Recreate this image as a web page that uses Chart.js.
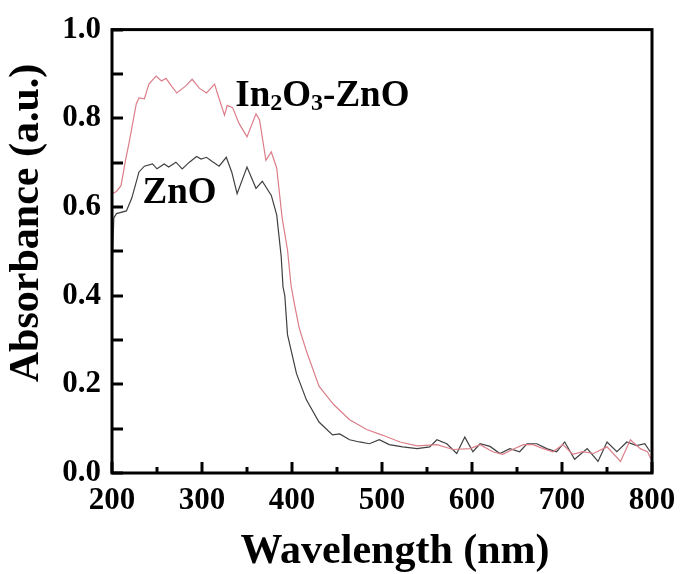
<!DOCTYPE html>
<html>
<head>
<meta charset="utf-8">
<script src="https://cdn.jsdelivr.net/npm/chart.js@4/dist/chart.umd.min.js"></script>
<style>
  html, body { margin: 0; padding: 0; background: #fff; }
  #wrap { width: 685px; height: 574px; }
</style>
</head>
<body>
<div id="wrap"><canvas id="c" width="685" height="574"></canvas></div>
<script>
// ---- Data ----
const xTitle = "Wavelength (nm)";
const yTitle = "Absorbance (a.u.)";
const xTickValues = [200, 300, 400, 500, 600, 700, 800];
const yTickValues = [0.0, 0.2, 0.4, 0.6, 0.8, 1.0];

const seriesNames = ["In2O3-ZnO", "ZnO"];

const wlIn2O3ZnO = [200,205,210,215,219,227,230,236,241,249,255,260,266,272,282,289,297,305,314,317,325,328,334,341,350,360,364,371,377,383,389,395,399,403,408,416,430,446,464,483,501,520,539,561,579,598,609,623,634,645,657,668,679,690,701,712,723,735,750,765,776,787,795,799];
const absIn2O3ZnO = [0.630,0.635,0.648,0.705,0.745,0.833,0.846,0.844,0.877,0.895,0.884,0.890,0.873,0.857,0.873,0.888,0.868,0.857,0.877,0.857,0.807,0.829,0.824,0.789,0.758,0.810,0.796,0.705,0.724,0.688,0.576,0.503,0.422,0.378,0.327,0.275,0.196,0.155,0.120,0.098,0.085,0.070,0.061,0.064,0.053,0.055,0.064,0.048,0.042,0.053,0.064,0.064,0.055,0.048,0.064,0.042,0.048,0.044,0.059,0.026,0.075,0.055,0.048,0.031];

const wlZnO = [200,202,205,216,222,230,236,245,250,258,263,271,278,286,294,299,305,311,319,327,333,339,350,360,367,377,383,388,390,392,395,405,416,430,445,453,464,475,486,497,508,523,539,553,561,572,583,592,601,609,620,631,642,653,661,672,683,694,703,714,728,740,750,761,772,783,792,798];
const absZnO = [0.450,0.575,0.585,0.591,0.620,0.679,0.692,0.697,0.686,0.697,0.690,0.701,0.686,0.701,0.714,0.708,0.712,0.703,0.692,0.712,0.679,0.630,0.690,0.642,0.658,0.626,0.582,0.488,0.420,0.400,0.312,0.224,0.165,0.115,0.086,0.088,0.075,0.070,0.066,0.075,0.064,0.059,0.055,0.059,0.075,0.066,0.044,0.081,0.048,0.066,0.060,0.044,0.055,0.048,0.066,0.066,0.055,0.048,0.070,0.031,0.055,0.026,0.070,0.048,0.070,0.062,0.066,0.048];

// label anchors (data coordinates)
const labelIn2O3ZnO = { x: 337, y: 0.828 };
const labelZnO = { x: 234, y: 0.61 };

const toPoints = (xs, ys) => xs.map((x, i) => ({ x: x, y: ys[i] }));

const SERIF = '"Liberation Serif", "Times New Roman", serif';

const decorPlugin = {
  id: 'decor',
  afterDatasetsDraw(chart) {
    const ctx = chart.ctx;
    const a = chart.chartArea;
    const xs = chart.scales.x, ys = chart.scales.y;
    ctx.save();
    ctx.strokeStyle = '#000';
    ctx.lineWidth = 3;
    // inward ticks x
    for (let v = 200; v <= 800; v += 50) {
      const px = Math.round(xs.getPixelForValue(v));
      const len = (v % 100 === 0) ? 11 : 6;
      ctx.beginPath();
      ctx.moveTo(px, a.bottom);
      ctx.lineTo(px, a.bottom - len);
      ctx.stroke();
    }
    // inward ticks y
    for (let i = 0; i <= 10; i++) {
      const py = Math.round(ys.getPixelForValue(i / 10));
      ctx.beginPath();
      ctx.moveTo(a.left, py);
      ctx.lineTo(a.left + 11, py);
      ctx.stroke();
    }
    // frame
    ctx.strokeRect(a.left, a.top, a.right - a.left, a.bottom - a.top);

    // series labels
    ctx.fillStyle = '#000';
    ctx.textBaseline = 'alphabetic';
    ctx.textAlign = 'left';
    const big = 'bold 37px ' + SERIF;
    const small = 'bold 24px ' + SERIF;
    let x = xs.getPixelForValue(labelIn2O3ZnO.x);
    const yb = ys.getPixelForValue(labelIn2O3ZnO.y);
    const parts = [['In', big, 0], ['2', small, 4], ['O', big, 0], ['3', small, 4], ['-ZnO', big, 0]];
    for (const [t, f, dy] of parts) {
      ctx.font = f;
      ctx.fillText(t, x, yb + dy);
      x += ctx.measureText(t).width;
    }
    ctx.font = big;
    ctx.fillText('ZnO', xs.getPixelForValue(labelZnO.x), ys.getPixelForValue(labelZnO.y));

    // axis titles
    ctx.font = 'bold 42px ' + SERIF;
    ctx.textAlign = 'center';
    ctx.textBaseline = 'alphabetic';
    ctx.fillText(xTitle, 395, 563);
    ctx.save();
    ctx.translate(38, 223);
    ctx.rotate(-Math.PI / 2);
    ctx.fillText(yTitle, 0, 0);
    ctx.restore();
    ctx.restore();
  }
};

new Chart(document.getElementById('c'), {
  type: 'line',
  data: {
    datasets: [
      {
        label: seriesNames[0],
        data: toPoints(wlIn2O3ZnO, absIn2O3ZnO),
        borderColor: '#dc7e8a',
        borderWidth: 1.2,
        pointRadius: 0,
        tension: 0,
        fill: false
      },
      {
        label: seriesNames[1],
        data: toPoints(wlZnO, absZnO),
        borderColor: '#404040',
        borderWidth: 1.2,
        pointRadius: 0,
        tension: 0,
        fill: false
      }
    ]
  },
  options: {
    responsive: false,
    animation: false,
    devicePixelRatio: 1,
    layout: { padding: { top: 14, right: 33, left: 0, bottom: 0 } },
    plugins: { legend: { display: false }, tooltip: { enabled: false } },
    scales: {
      x: {
        type: 'linear',
        min: 200, max: 800,
        afterFit(s) { s.height = 101; },
        afterBuildTicks(s) { s.ticks = xTickValues.map(v => ({ value: v })); },
        grid: { display: false, drawTicks: false },
        border: { display: false },
        ticks: {
          autoSkip: false,
          maxRotation: 0,
          padding: 9,
          color: '#000',
          font: { family: SERIF, size: 31, weight: 'bold' },
          callback: (v) => String(v)
        }
      },
      y: {
        type: 'linear',
        min: 0, max: 1,
        afterFit(s) { s.width = 112; },
        afterBuildTicks(s) { s.ticks = yTickValues.map(v => ({ value: v })); },
        grid: { display: false, drawTicks: false },
        border: { display: false },
        ticks: {
          padding: 11,
          color: '#000',
          font: { family: SERIF, size: 31, weight: 'bold' },
          callback: (v) => Number(v).toFixed(1)
        }
      }
    }
  },
  plugins: [decorPlugin]
});
</script>
</body>
</html>
